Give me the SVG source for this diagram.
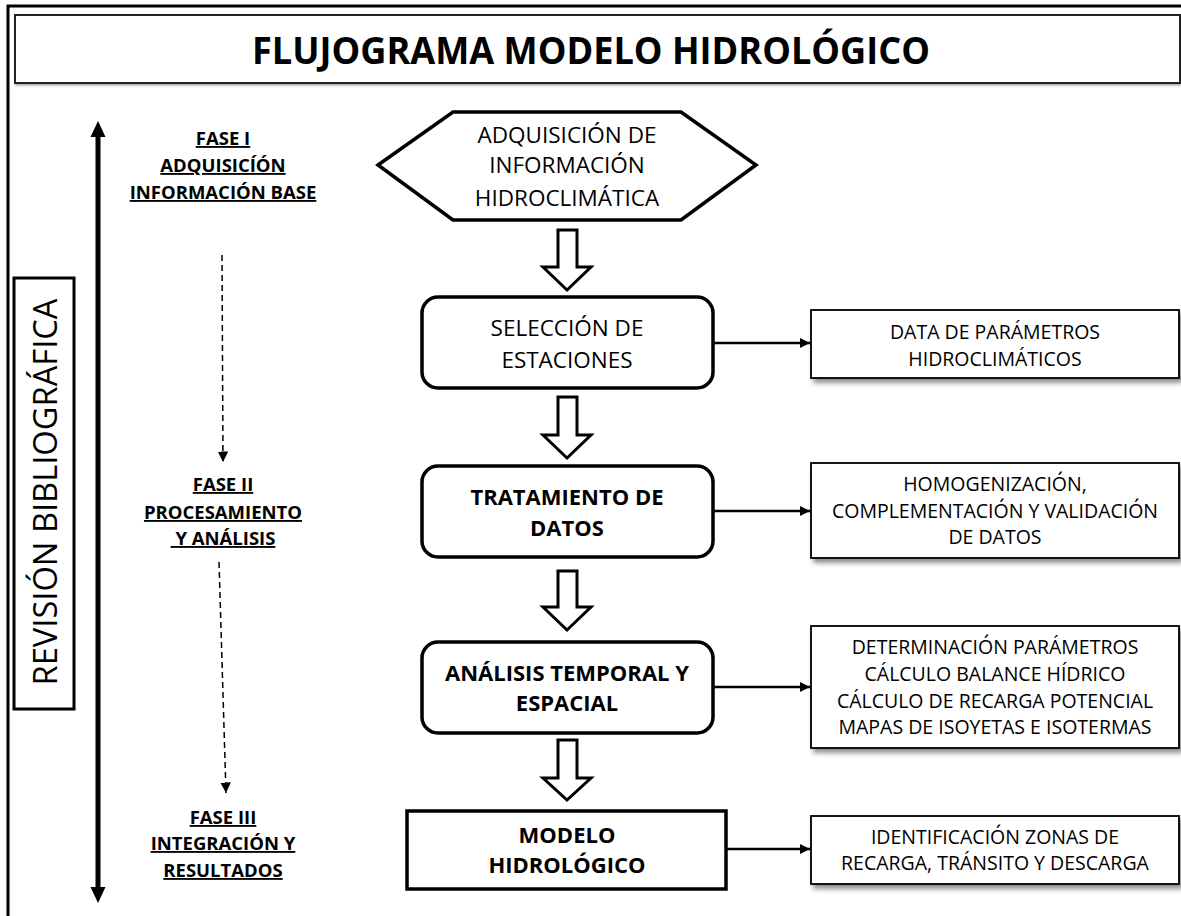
<svg xmlns="http://www.w3.org/2000/svg" width="1181" height="916" viewBox="0 0 1181 916">
<style>
.t{font-family:"Open Sans","Noto Sans","Liberation Sans",sans-serif;fill:#000}
.title{font-size:38px;font-weight:bold;text-anchor:middle}
.ph{font-size:18.5px;font-weight:bold;text-anchor:middle;text-decoration:underline}
.main{font-size:22.5px;text-anchor:middle}
.mainb{font-size:22px;font-weight:bold;text-anchor:middle}
.side{font-size:19.5px;text-anchor:middle}
.box{fill:#fff;stroke:#000;stroke-width:3.5}
.sbox{fill:#fff;stroke:#000;stroke-width:1.8}
.blk{fill:#fff;stroke:#000;stroke-width:3;stroke-linejoin:miter}
.conn{stroke:#000;stroke-width:2.5;fill:none}
.dash{stroke:#000;stroke-width:1.5;fill:none;stroke-dasharray:6 4}
</style>
<defs>
<marker id="ah" viewBox="0 0 10 10" refX="10" refY="5" markerWidth="4" markerHeight="4" markerUnits="strokeWidth" orient="auto">
<path d="M0,0 L10,5 L0,10 Z" fill="#000"/>
</marker>
<marker id="ahd" viewBox="0 0 10 10" refX="10" refY="5" markerWidth="7" markerHeight="7" markerUnits="strokeWidth" orient="auto">
<path d="M0,0 L10,5 L0,10 Z" fill="#000"/>
</marker>
<filter id="sh" x="-10%" y="-20%" width="130%" height="160%">
<feDropShadow dx="3" dy="4" stdDeviation="2.5" flood-color="#000" flood-opacity="0.45"/>
</filter>
<filter id="sh2" x="-5%" y="-20%" width="110%" height="150%">
<feDropShadow dx="1" dy="1.5" stdDeviation="1" flood-color="#000" flood-opacity="0.35"/>
</filter>
</defs>
<rect width="1181" height="916" fill="#fff"/>
<g id="frame">
<rect x="8" y="6" width="1200" height="940" fill="none" stroke="#000" stroke-width="3"/>
</g>
<g id="title">
<rect x="15" y="15" width="1165" height="68" fill="#fff" stroke="#222" stroke-width="2" filter="url(#sh2)"/>
<text class="t title" x="591" y="64" textLength="678" lengthAdjust="spacingAndGlyphs">FLUJOGRAMA MODELO HIDROLÓGICO</text>
</g>
<g id="revision">
<rect x="14" y="278" width="60" height="431" fill="#fff" stroke="#000" stroke-width="3"/>
<text class="t" font-size="33" text-anchor="middle" transform="translate(56.5,492) rotate(-90)" textLength="387" lengthAdjust="spacingAndGlyphs">REVISIÓN BIBLIOGRÁFICA</text>
</g>
<g id="timeline">
<line x1="98" y1="136" x2="98" y2="888" stroke="#000" stroke-width="5"/>
<polygon points="98,121 90.5,137 105.5,137" fill="#000"/>
<polygon points="98,903 90.5,887 105.5,887" fill="#000"/>
</g>
<g id="fase1">
<text class="t ph" x="223" y="145">FASE I</text>
<text class="t ph" x="223" y="172">ADQUISICÍÓN</text>
<text class="t ph" x="223" y="199">INFORMACIÓN BASE</text>
</g>
<g id="fase2">
<text class="t ph" x="223" y="491">FASE II</text>
<text class="t ph" x="223" y="519">PROCESAMIENTO</text>
<text class="t ph" x="223" y="545" xml:space="preserve"> Y ANÁLISIS</text>
</g>
<g id="fase3">
<text class="t ph" x="223" y="824">FASE III</text>
<text class="t ph" x="223" y="850">INTEGRACIÓN Y</text>
<text class="t ph" x="223" y="877">RESULTADOS</text>
</g>
<g id="n1">
<polygon class="box" points="378,165 453,112 681,112 756,165 681,220 453,220" stroke-width="3.5"/>
<text class="t main" x="567" y="143">ADQUISICIÓN DE</text>
<text class="t main" x="567" y="173">INFORMACIÓN</text>
<text class="t main" x="567" y="206">HIDROCLIMÁTICA</text>
</g>
<g id="n2">
<rect class="box" x="422" y="297" width="291" height="91" rx="16"/>
<text class="t main" x="567" y="336">SELECCIÓN DE</text>
<text class="t main" x="567" y="368">ESTACIONES</text>
</g>
<g id="n3">
<rect class="box" x="422" y="466" width="291" height="91" rx="16"/>
<text class="t mainb" x="567" y="505">TRATAMIENTO DE</text>
<text class="t mainb" x="567" y="536">DATOS</text>
</g>
<g id="n4">
<rect class="box" x="422" y="642" width="291" height="91" rx="16"/>
<text class="t mainb" x="567" y="681">ANÁLISIS TEMPORAL Y</text>
<text class="t mainb" x="567" y="711">ESPACIAL</text>
</g>
<g id="n5">
<rect class="box" x="407" y="811" width="319" height="78"/>
<text class="t mainb" x="567" y="843">MODELO</text>
<text class="t mainb" x="567" y="873">HIDROLÓGICO</text>
</g>
<g id="r1">
<rect class="sbox" x="811" y="310" width="368" height="68" filter="url(#sh)"/>
<text class="t side" x="995" y="339">DATA DE PARÁMETROS</text>
<text class="t side" x="995" y="366">HIDROCLIMÁTICOS</text>
</g>
<g id="r2">
<rect class="sbox" x="811" y="463" width="368" height="95" filter="url(#sh)"/>
<text class="t side" x="995" y="491">HOMOGENIZACIÓN,</text>
<text class="t side" x="995" y="518">COMPLEMENTACIÓN Y VALIDACIÓN</text>
<text class="t side" x="995" y="544">DE DATOS</text>
</g>
<g id="r3">
<rect class="sbox" x="811" y="626" width="368" height="122" filter="url(#sh)"/>
<text class="t side" x="995" y="654">DETERMINACIÓN PARÁMETROS</text>
<text class="t side" x="995" y="681">CÁLCULO BALANCE HÍDRICO</text>
<text class="t side" x="995" y="708">CÁLCULO DE RECARGA POTENCIAL</text>
<text class="t side" x="995" y="734">MAPAS DE ISOYETAS E ISOTERMAS</text>
</g>
<g id="r4">
<rect class="sbox" x="811" y="816" width="368" height="68" filter="url(#sh)"/>
<text class="t side" x="995" y="844">IDENTIFICACIÓN ZONAS DE</text>
<text class="t side" x="995" y="870">RECARGA, TRÁNSITO Y DESCARGA</text>
</g>
<g id="connectors">
<polygon class="blk" points="558,230 577,230 577,267 591,267 567,290 543,267 558,267"/>
<polygon class="blk" points="558,397 577,397 577,435 591,435 567,458 543,435 558,435"/>
<polygon class="blk" points="558,571 577,571 577,607 591,607 567,630 543,607 558,607"/>
<polygon class="blk" points="558,740 577,740 577,778 591,778 567,800 543,778 558,778"/>
<line class="conn" x1="713" y1="343" x2="810" y2="343" marker-end="url(#ah)"/>
<line class="conn" x1="713" y1="511" x2="810" y2="511" marker-end="url(#ah)"/>
<line class="conn" x1="713" y1="687" x2="810" y2="687" marker-end="url(#ah)"/>
<line class="conn" x1="726" y1="849" x2="810" y2="849" marker-end="url(#ah)"/>
<line class="dash" x1="222" y1="255" x2="223" y2="462" marker-end="url(#ahd)"/>
<line class="dash" x1="219" y1="562" x2="226" y2="793" marker-end="url(#ahd)"/>
</g>
</svg>
